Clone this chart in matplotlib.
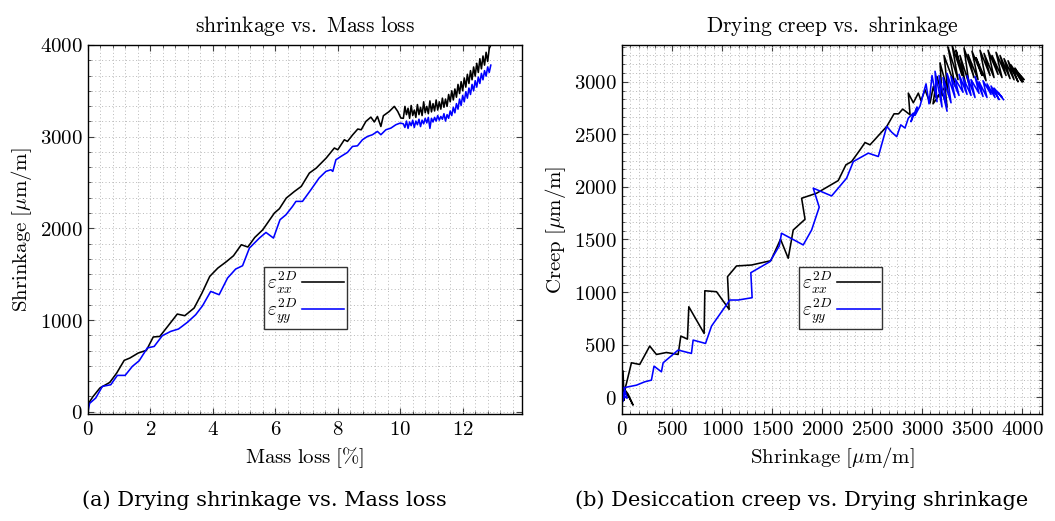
import numpy as np
import matplotlib
matplotlib.use('Agg')
from matplotlib import pyplot as plt
from matplotlib.ticker import MultipleLocator, FuncFormatter

# (a) shrinkage vs mass loss
mass_xx = [0, 0.15, 0.38, 0.70, 0.92, 1.16, 1.34, 1.61, 1.87, 2.09, 2.30, 2.57, 2.86, 3.10, 3.40,
           3.65, 3.90, 4.16, 4.43, 4.66, 4.91, 5.12, 5.34, 5.60, 5.97, 6.13, 6.35, 6.61, 6.83, 7.09,
           7.31, 7.63, 7.89, 8.00, 8.21, 8.31, 8.48, 8.64, 8.75, 8.90, 9.06, 9.17, 9.27, 9.38, 9.46,
           9.65, 9.81, 9.92, 10.02,
           10.10, 10.15, 10.20, 10.25, 10.30, 10.35, 10.40, 10.45, 10.50, 10.55, 10.60, 10.65, 10.70,
           10.75, 10.80, 10.85, 10.90, 10.95, 11.00, 11.05, 11.10, 11.15, 11.20, 11.25, 11.30, 11.35,
           11.40, 11.45, 11.50, 11.55, 11.60, 11.65, 11.70, 11.75, 11.80, 11.85, 11.90, 11.95, 12.00,
           12.05, 12.10, 12.15, 12.20, 12.25, 12.30, 12.35, 12.40, 12.45, 12.50, 12.55, 12.60, 12.65,
           12.70, 12.75, 12.80, 12.85, 12.90]
shr_xx = [80, 160, 258, 320, 422, 560, 585, 640, 669, 815, 821, 938, 1065, 1047, 1131,
          1294, 1476, 1567, 1636, 1701, 1821, 1796, 1900, 1985, 2167, 2214, 2330, 2402, 2457, 2603,
          2657, 2767, 2876, 2857, 2966, 2948, 3021, 3083, 3075, 3166, 3213, 3160, 3220, 3111, 3228,
          3275, 3330, 3275, 3203,
          3200, 3330, 3240, 3310, 3200, 3340, 3230, 3290, 3210, 3350, 3240, 3320, 3230,
          3380, 3260, 3330, 3250, 3390, 3270, 3360, 3280, 3400, 3290, 3380, 3300, 3420,
          3320, 3410, 3330, 3460, 3380, 3500, 3400, 3520, 3430, 3570, 3470, 3600, 3500,
          3640, 3540, 3680, 3580, 3720, 3620, 3760, 3660, 3800, 3700, 3850, 3740, 3880,
          3780, 3920, 3820, 3960, 4000]

mass_yy = [0, 0.05, 0.25, 0.46, 0.73, 0.94, 1.19, 1.42, 1.64, 1.90, 2.12, 2.38, 2.65, 2.90, 3.18,
           3.45, 3.67, 3.93, 4.20, 4.47, 4.73, 4.95, 5.17, 5.49, 5.70, 5.94, 6.15, 6.34, 6.55, 6.66,
           6.87, 7.14, 7.40, 7.62, 7.78, 7.84, 7.94, 8.10, 8.31, 8.47, 8.63, 8.79, 8.95, 9.11, 9.27,
           9.38, 9.54, 9.70, 9.86, 10.00,
           10.10, 10.15, 10.20, 10.25, 10.30, 10.35, 10.40, 10.45, 10.50, 10.55, 10.60, 10.65, 10.70,
           10.75, 10.80, 10.85, 10.90, 10.95, 11.00, 11.05, 11.10, 11.15, 11.20, 11.25, 11.30, 11.35,
           11.40, 11.45, 11.50, 11.55, 11.60, 11.65, 11.70, 11.75, 11.80, 11.85, 11.90, 11.95, 12.00,
           12.05, 12.10, 12.15, 12.20, 12.25, 12.30, 12.35, 12.40, 12.45, 12.50, 12.55, 12.60, 12.65,
           12.70, 12.75, 12.80, 12.85, 12.90]
shr_yy = [0, 90, 150, 276, 294, 396, 396, 494, 556, 695, 712, 829, 876, 902, 974,
          1058, 1156, 1312, 1276, 1458, 1556, 1592, 1785, 1894, 1955, 1894, 2094, 2148, 2239, 2294,
          2294, 2421, 2548, 2621, 2639, 2621, 2748, 2784, 2828, 2893, 2900, 2966, 3002, 3021, 3057,
          3021, 3075, 3093, 3130, 3148,
          3140, 3100, 3170, 3090, 3160, 3120, 3180, 3100, 3170, 3130, 3190, 3110, 3180,
          3140, 3200, 3150, 3210, 3090, 3200, 3160, 3210, 3170, 3230, 3180, 3220, 3190,
          3250, 3170, 3240, 3200, 3280, 3230, 3320, 3260, 3360, 3300, 3410, 3340, 3450,
          3380, 3490, 3420, 3530, 3460, 3570, 3500, 3610, 3540, 3650, 3580, 3690, 3620,
          3720, 3660, 3760, 3700, 3780]

# (b) creep vs shrinkage
shrink_xx = [0, 10, 20, 5, 60, 110, 70, 20, 44, 94, 177, 277, 344, 444, 561, 588, 654, 668, 821,
             828, 945, 1071, 1055, 1145, 1295, 1488, 1585, 1662, 1712, 1830, 1796, 1946, 2162,
             2239, 2296, 2380, 2430, 2480, 2647, 2720, 2765, 2807, 2880, 2863, 2913, 2963, 2990,
             3030, 3080, 3113, 3140, 3200, 3250, 3230,
             3110, 3150, 3200, 3180, 3260, 3220, 3330, 3260, 3360, 3300, 3400, 3340, 3430, 3380,
             3470, 3420, 3520, 3460, 3560, 3500, 3600, 3540, 3640, 3580, 3680, 3620, 3720, 3660,
             3760, 3700, 3800, 3740, 3840, 3780, 3880, 3820, 3920, 3860, 3960, 3890, 3990, 3930,
             4010, 3950, 4020, 3980, 4000]
creep_xx = [-160, 250, -30, 100, 30, -75, 0, 50, 130, 327, 311, 486, 406, 425, 406, 581, 552, 860, 606,
            1012, 1003, 835, 1146, 1248, 1257, 1298, 1502, 1321, 1590, 1692, 1892, 1940, 2060,
            2210, 2241, 2352, 2422, 2400, 2575, 2695, 2695, 2740, 2686, 2892, 2800, 2892, 2820,
            2924, 2797, 2955, 2850, 2900, 2760, 2950,
            2790, 3050, 2870, 3180, 2900, 3250, 2960, 3330, 3020, 3350, 3060, 3300, 3000, 3250,
            2980, 3320, 3040, 3260, 3020, 3290, 3060, 3230, 3010, 3300, 3060, 3270, 3040, 3300,
            3070, 3250, 3040, 3280, 3060, 3250, 3030, 3220, 3020, 3200, 3000, 3160, 3010, 3130,
            3000, 3100, 3020, 3060, 3000]

shrink_yy = [0, 10, 30, 5, 50, 20, 60, 144, 227, 294, 320, 394, 411, 561, 694, 711, 835, 895, 1078,
             1161, 1301, 1288, 1479, 1572, 1595, 1812, 1896, 1972, 1912, 2096, 2246, 2313, 2463,
             2563, 2647, 2697, 2747, 2787, 2830, 2863, 2913, 2890, 2950, 2930, 2980,
             3040, 3070, 3100, 3150, 3130, 3200, 3170, 3250, 3210, 3290, 3250, 3330, 3290, 3370,
             3330, 3410, 3370, 3450, 3410, 3490, 3450, 3530, 3490, 3570, 3530, 3610, 3570, 3650,
             3610, 3690, 3650, 3730, 3690, 3770, 3720, 3800, 3760, 3815]
creep_yy = [150, -40, 60, 20, -10, 90, 98, 114, 146, 162, 295, 241, 327, 448, 416, 543, 511, 676, 924,
            924, 946, 1184, 1289, 1438, 1559, 1448, 1590, 1807, 1988, 1914, 2083, 2241, 2321,
            2289, 2575, 2520, 2478, 2590, 2560, 2654, 2702, 2620, 2760, 2680, 2770,
            2980, 2790, 3060, 2810, 3100, 2760, 3060, 2720, 3040, 2800, 3080, 2850, 3050, 2870,
            3030, 2900, 3070, 2880, 3040, 2870, 3060, 2850, 3020, 2890, 3050, 2860, 3000, 2850,
            3010, 2880, 2980, 2850, 2960, 2830, 2940, 2850, 2900, 2830]

plt.rcParams['font.family'] = 'serif'
plt.rcParams['font.serif'] = ['DejaVu Serif']
plt.rcParams['mathtext.fontset'] = 'cm'

fig = plt.figure(figsize=(10.55, 5.21), dpi=100)
ax1 = fig.add_axes([0.0834, 0.2054, 0.4114, 0.7083])
ax2 = fig.add_axes([0.5896, 0.2054, 0.3981, 0.7083])

lab_xx = r'$\varepsilon^{2D}_{xx}$'
lab_yy = r'$\varepsilon^{2D}_{yy}$'

ax1.plot(mass_xx, shr_xx, color='black', lw=1.15, label=lab_xx)
ax1.plot(mass_yy, shr_yy, color='#0000ff', lw=1.15, label=lab_yy)
ax2.plot(shrink_xx, creep_xx, color='black', lw=1.15, label=lab_xx)
ax2.plot(shrink_yy, creep_yy, color='#0000ff', lw=1.15, label=lab_yy)

ax1.set_xlim(0, 13.9)
ax1.set_ylim(-25, 4000)
ax1.xaxis.set_major_locator(MultipleLocator(2))
ax1.xaxis.set_minor_locator(MultipleLocator(0.4))
ax1.yaxis.set_major_locator(MultipleLocator(1000))
ax1.yaxis.set_minor_locator(MultipleLocator(1000 / 6))

ax2.set_xlim(0, 4200)
ax2.set_ylim(-160, 3350)
ax2.xaxis.set_major_locator(MultipleLocator(500))
ax2.xaxis.set_minor_locator(MultipleLocator(500 / 6))
ax2.yaxis.set_major_locator(MultipleLocator(500))
ax2.yaxis.set_minor_locator(MultipleLocator(500 / 6))

fmt = FuncFormatter(lambda v, p: '$%g$' % v)
for ax in (ax1, ax2):
    ax.xaxis.set_major_formatter(fmt)
    ax.yaxis.set_major_formatter(fmt)
    ax.grid(which='both', color='#b8b8b8', ls=(0, (1, 2.5)), lw=0.7)
    ax.set_axisbelow(True)
    ax.tick_params(which='both', direction='in', top=True, right=True, labelsize=15, color='#404040')
    ax.tick_params(which='major', length=4.5, width=0.8, pad=4)
    ax.tick_params(which='minor', length=2.5, width=0.6)
    for s in ax.spines.values():
        s.set_linewidth(1.0)
    leg = ax.legend(loc='upper left', bbox_to_anchor=(0.405 if ax is ax1 else 0.421, 0.398),
                    markerfirst=False, fancybox=False, frameon=True, edgecolor='black',
                    fontsize=14, handlelength=2.2, borderpad=0.15, labelspacing=0.0,
                    handletextpad=0.25, borderaxespad=0)
    leg.get_frame().set_linewidth(1.0)

ax1.set_title(r'$\mathrm{shrinkage\ vs.\ Mass\ loss}$', fontsize=15.5, pad=9)
ax1.set_xlabel(r'$\mathrm{Mass\ loss\ [\%]}$', fontsize=15, labelpad=5)
ax1.set_ylabel(r'$\mathrm{Shrinkage}\ [\mu\mathrm{m}/\mathrm{m}]$', fontsize=15, labelpad=4)
ax2.set_title(r'$\mathrm{Drying\ creep\ vs.\ shrinkage}$', fontsize=15.5, pad=9)
ax2.set_xlabel(r'$\mathrm{Shrinkage}\ [\mu\mathrm{m}/\mathrm{m}]$', fontsize=15, labelpad=5)
ax2.set_ylabel(r'$\mathrm{Creep}\ [\mu\mathrm{m}/\mathrm{m}]$', fontsize=15, labelpad=4)

fig.text(264 / 1055, 1 - 500 / 521, '(a) Drying shrinkage vs. Mass loss', ha='center', va='center', fontsize=15)
fig.text(802 / 1055, 1 - 500 / 521, '(b) Desiccation creep vs. Drying shrinkage', ha='center', va='center', fontsize=15)

fig.savefig('out.png', dpi=100)
